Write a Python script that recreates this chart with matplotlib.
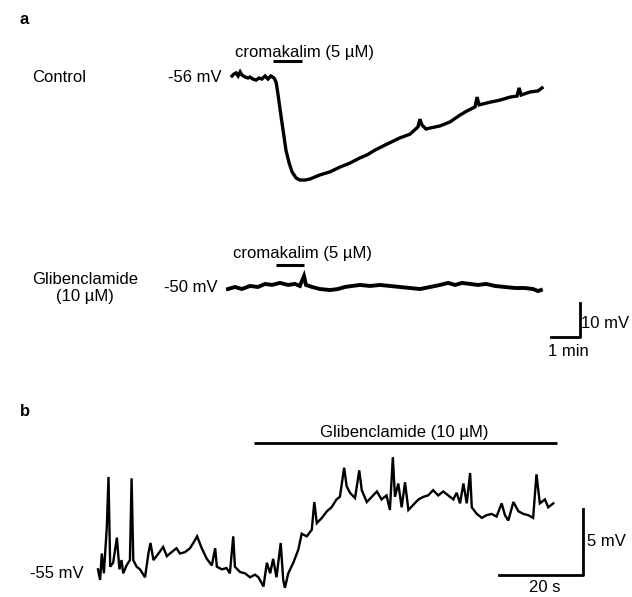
import matplotlib
matplotlib.use("Agg")
import matplotlib.pyplot as plt

plt.rcParams['font.family'] = ['Liberation Sans', 'DejaVu Sans']

# panel a, control trace: time (min), membrane potential (mV)
ctrl_t = [0.00, 0.07, 0.14, 0.21, 0.28, 0.34, 0.45, 0.55, 0.62, 0.72, 0.83, 0.93,
          1.03, 1.14, 1.24, 1.34, 1.45, 1.52, 1.59, 1.66, 1.76, 1.86, 1.97, 2.07,
          2.21, 2.34, 2.52, 2.69, 2.86, 3.03, 3.38, 3.72, 4.07, 4.41, 4.66, 4.93,
          5.28, 5.79, 6.14, 6.41, 6.48, 6.55, 6.69, 6.83, 7.17, 7.52, 7.86, 8.10,
          8.38, 8.45, 8.52, 8.90, 9.24, 9.59, 9.83, 9.90, 9.97, 10.28, 10.55, 10.69]
ctrl_v = [-55.7, -55.1, -54.8, -55.7, -54.5, -55.4, -56.0, -56.3, -56.0, -56.6, -56.9, -56.3,
          -56.6, -55.7, -56.6, -55.7, -56.3, -57.5, -61.3, -65.7, -71.6, -77.5, -81.3, -83.9,
          -85.7, -86.3, -86.3, -86.0, -85.4, -84.8, -83.9, -82.5, -81.3, -79.8, -78.9, -77.5,
          -76.0, -73.9, -72.8, -70.7, -68.4, -70.1, -71.3, -71.0, -70.4, -69.2, -67.2, -66.0,
          -64.8, -61.9, -64.2, -63.4, -62.8, -61.9, -61.6, -59.2, -61.3, -60.4, -60.1, -59.2]

# panel a, trace in glibenclamide
glib_t = [0.00, 0.24, 0.48, 0.76, 1.03, 1.28, 1.52, 1.79, 2.07, 2.31, 2.48, 2.62, 2.69,
          2.90, 3.17, 3.52, 3.79, 4.03, 4.28, 4.55, 4.90, 5.24, 5.59, 5.93, 6.28, 6.62,
          6.97, 7.31, 7.59, 7.83, 8.07, 8.34, 8.62, 8.90, 9.21, 9.55, 9.90, 10.24, 10.52,
          10.69, 10.79]
glib_v = [-50.3, -49.7, -50.3, -49.4, -49.7, -48.8, -49.1, -48.5, -49.1, -48.8, -49.4, -46.5, -49.1,
          -49.7, -50.3, -50.6, -50.3, -49.7, -49.4, -49.1, -49.4, -49.1, -49.4, -49.7, -50.0, -50.3,
          -49.7, -49.1, -48.5, -49.1, -48.5, -48.8, -49.1, -48.8, -49.4, -49.7, -50.0, -50.0, -50.3,
          -50.9, -50.6]

# panel b: time (s), membrane potential (mV)
b_t = [0.0, 0.5, 0.9, 1.4, 2.1, 2.5, 2.9, 3.6, 4.5, 5.1, 5.6, 6.0, 6.8, 7.6, 8.0, 8.4,
       9.2, 10.0, 11.2, 12.0, 12.5, 13.2, 14.4, 15.5, 16.4, 17.5, 18.7, 19.5, 20.7, 21.9,
       22.7, 23.6, 24.7, 25.9, 27.1, 27.9, 28.3, 29.5, 30.6, 31.4, 32.2, 32.6, 33.8, 35.0,
       36.2, 37.4, 38.2, 39.4, 40.2, 41.0, 41.7, 42.5, 43.5, 44.1, 44.5, 45.3, 46.5, 47.7,
       48.5, 49.7, 50.9, 51.5, 52.1, 53.3, 54.5, 55.6, 56.8, 57.6, 58.6, 59.2, 60.0, 61.2,
       62.2, 62.8, 64.0, 65.2, 66.4, 67.5, 68.7, 69.5, 70.2, 70.7, 71.5, 72.3, 73.1, 73.9,
       75.1, 76.3, 77.5, 78.6, 79.8, 81.0, 82.2, 83.4, 84.6, 85.4, 86.2, 87.0, 87.8, 88.6,
       89.0, 90.2, 91.4, 92.5, 93.7, 94.9, 96.1, 96.9, 97.7, 98.9, 100.1, 101.3, 102.5,
       103.6, 104.4, 105.2, 106.4, 107.2, 108.4]
b_v = [-54.8, -55.6, -53.6, -55.1, -51.6, -47.8, -54.6, -54.3, -52.4, -54.8, -54.1, -55.1,
       -54.5, -54.1, -47.9, -54.1, -54.6, -54.8, -55.4, -53.6, -52.8, -54.1, -53.6, -53.1,
       -53.8, -53.5, -53.2, -53.6, -53.5, -53.2, -52.8, -52.3, -53.2, -54.0, -54.5, -53.2,
       -54.6, -54.8, -54.7, -55.1, -52.3, -54.6, -55.0, -55.1, -55.4, -55.2, -55.4, -56.1,
       -54.3, -55.1, -54.0, -55.4, -52.8, -55.6, -56.2, -55.1, -54.3, -53.3, -52.1, -52.3,
       -51.8, -49.7, -51.3, -50.9, -50.4, -50.1, -49.5, -49.3, -47.1, -48.5, -49.0, -49.4,
       -47.3, -48.8, -49.7, -49.3, -48.9, -49.5, -49.2, -50.3, -46.3, -49.3, -48.3, -50.1,
       -48.2, -50.3, -49.9, -49.5, -49.3, -49.2, -48.8, -49.2, -48.9, -49.2, -49.5, -49.0,
       -49.8, -48.3, -49.8, -47.5, -50.1, -50.6, -50.9, -50.7, -50.6, -50.8, -49.8, -50.7,
       -51.1, -49.7, -50.4, -50.6, -50.7, -50.9, -47.6, -49.8, -49.5, -50.1, -49.8]

W, H = 632, 597
fig = plt.figure(figsize=(W / 100, H / 100), dpi=100)


def overlay(xlim, ylim):
    ax = fig.add_axes([0, 0, 1, 1])
    ax.set_xlim(*xlim)
    ax.set_ylim(*ylim)
    ax.axis('off')
    ax.patch.set_alpha(0)
    return ax


def label(x, y, s, ha='left', **kw):
    fig.text(x / W, 1 - y / H, s, ha=ha, va='center', fontsize=12, **kw)


# panel a, control
ax1 = overlay((-8.0, 13.793), (-208.94, -33.35))
ax1.plot(ctrl_t, ctrl_v, color='black', lw=2.4, solid_joinstyle='miter')
ax1.plot([1.41, 2.41], [-51.3, -51.3], color='black', lw=2.2, solid_capstyle='butt')
# 10 mV / 1 min scale bar
ax1.plot([11.0, 12.0, 12.0], [-132.5, -132.5, -122.5], color='black', lw=2.0)

# panel a, glibenclamide
ax2 = overlay((-7.862, 13.931), (-140.88, 34.71))
ax2.plot(glib_t, glib_v, color='black', lw=2.8, solid_joinstyle='miter')
ax2.plot([1.66, 2.62], [-43.2, -43.2], color='black', lw=2.2, solid_capstyle='butt')

# panel b
ax3 = overlay((-23.333, 127.143), (-56.894, -11.667))
ax3.plot(b_t, b_v, color='black', lw=1.7, solid_joinstyle='miter')
ax3.plot([37.1, 109.3], [-45.2, -45.2], color='black', lw=2.0, solid_capstyle='butt')
ax3.plot([95.5, 115.5, 115.5], [-55.2, -55.2, -50.2], color='black', lw=2.0)

label(20, 20, 'a', fontweight='bold')
label(235, 52, 'cromakalim (5 µM)')
label(32, 77, 'Control')
label(222, 77, '-56 mV', ha='right')
label(85, 288, 'Glibenclamide\n(10 µM)', ha='center', linespacing=1.1)
label(218, 288, '-50 mV', ha='right')
label(233, 254, 'cromakalim (5 µM)')
label(581, 323, '10 mV')
label(568, 352, '1 min', ha='center')

label(20, 412, 'b', fontweight='bold')
label(404, 432, 'Glibenclamide (10 µM)', ha='center')
label(84, 573, '-55 mV', ha='right')
label(587, 542, '5 mV')
label(545, 588, '20 s', ha='center')

fig.savefig('out.png', dpi=100)
